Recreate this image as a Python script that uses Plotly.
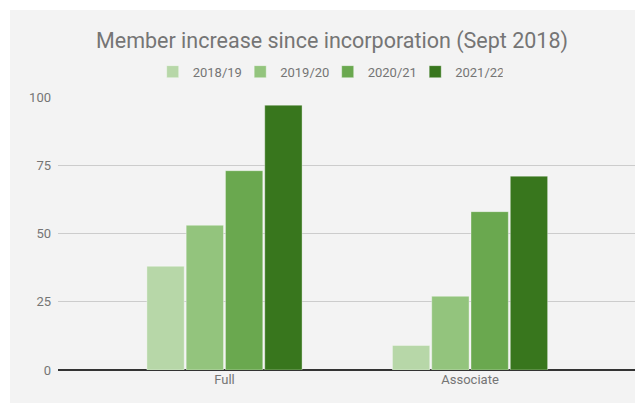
import plotly.graph_objects as go

categories = ["Full", "Associate"]
series_names = ["2018/19", "2019/20", "2020/21", "2021/22"]
series_values = [
    [38, 9],
    [53, 27],
    [73, 58],
    [97, 71],
]
colors = ["#b7d7a8", "#93c47d", "#6aa84f", "#38761d"]
y_ticks = [0, 25, 50, 75, 100]

W, H = 635, 395
L, R, T, B = 50, 6, 89, 33

fig = go.Figure()
for name, vals, col in zip(series_names, series_values, colors):
    fig.add_trace(go.Bar(
        x=categories, y=vals, name=name,
        marker=dict(color=col, line=dict(width=0.6, color="rgba(255,255,255,0.6)")),
        hoverinfo="skip",
    ))

pw = W - L - R
ph = H - T - B
# gray chart background (starts 2px inside the page)
fig.add_shape(type="rect", xref="paper", yref="paper",
              x0=(2 - L) / pw, x1=(W - L) / pw,
              y0=-B / ph, y1=1 + (T - 2) / ph,
              fillcolor="#f3f3f3", line=dict(width=0), layer="below")

fig.update_layout(
    width=W, height=H,
    margin=dict(l=L, r=R, t=T, b=B, pad=0),
    paper_bgcolor="white",
    plot_bgcolor="rgba(0,0,0,0)",
    font=dict(family="Roboto", color="#757575", size=13),
    title=dict(text="Member increase since incorporation (Sept 2018)",
               font=dict(family="Roboto", size=21.5, color="#757575"),
               x=324 / W, xanchor="center", xref="container",
               y=1 - 32 / H, yanchor="middle", yref="container"),
    barmode="group", bargap=0.36, bargroupgap=0.05,
    legend=dict(orientation="h", x=(144.7 - L) / pw, xanchor="left",
                y=1 + (T - 63.7) / ph, yanchor="middle",
                font=dict(family="Roboto", size=13, color="#757575"),
                itemwidth=30, entrywidth=42.5, entrywidthmode="pixels",
                bgcolor="rgba(0,0,0,0)"),
    xaxis=dict(range=[-0.678, 1.68], showgrid=False, showline=False,
               tickfont=dict(family="Roboto", size=13, color="#757575"),
               ticks="", fixedrange=True),
    yaxis=dict(range=[0, 100], tickvals=y_ticks, showgrid=True,
               gridcolor="#cccccc", gridwidth=1, zeroline=True,
               zerolinecolor="#333333", zerolinewidth=2, showline=False,
               ticks="", ticklabelstandoff=6,
               tickfont=dict(family="Roboto", size=13, color="#757575"),
               fixedrange=True),
)

fig.write_html("out.html")
